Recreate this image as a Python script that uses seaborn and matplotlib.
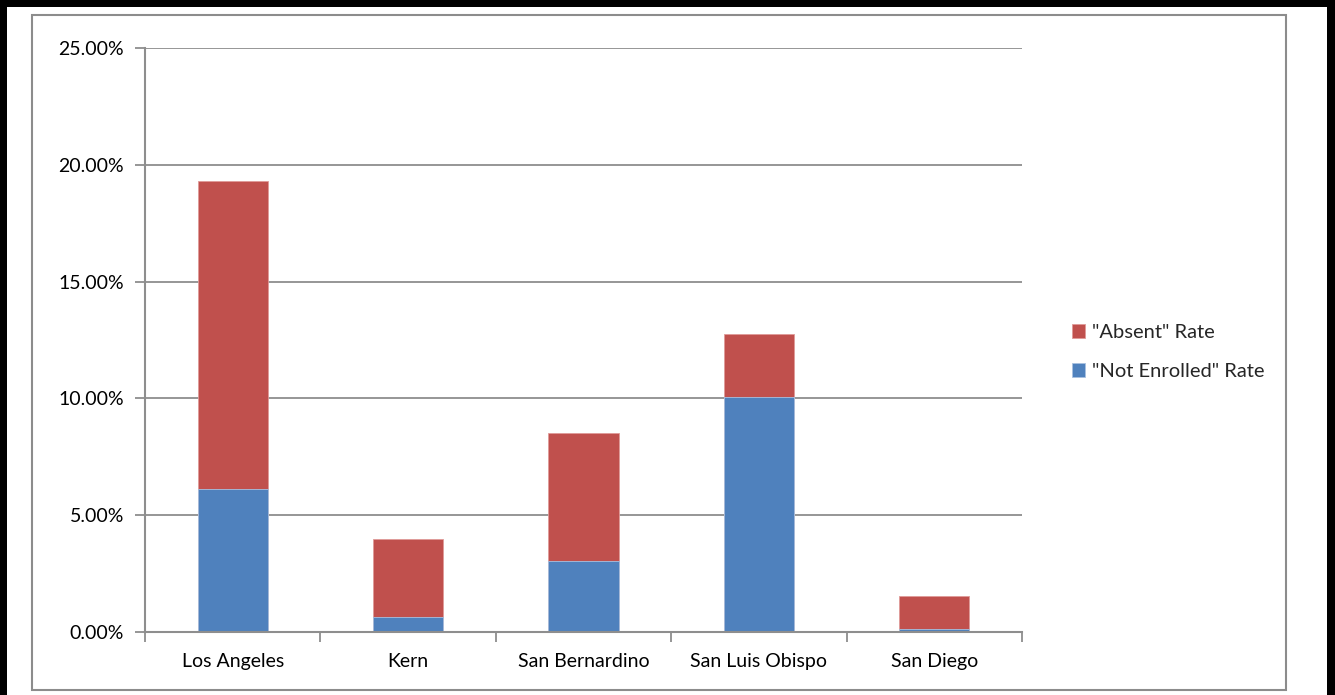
import numpy as np
import pandas as pd
import matplotlib
matplotlib.use("Agg")
import matplotlib.pyplot as plt
from matplotlib.patches import Rectangle
from matplotlib.ticker import FuncFormatter, FixedLocator
import seaborn as sns

counties = ["Los Angeles", "Kern", "San Bernardino", "San Luis Obispo", "San Diego"]
notEnrolled = [0.0612, 0.0064, 0.0304, 0.1007, 0.0012]
absent = [0.1319, 0.0334, 0.0548, 0.0267, 0.0141]

RED = "#c0504d"
BLUE = "#4f81bd"
GRID = "#8e8e8e"

sns.set_theme(style="white")
plt.rcParams["font.family"] = ["Lato", "DejaVu Sans"]

df = pd.DataFrame({"county": counties,
                   "notEnrolled": notEnrolled,
                   "total": np.array(notEnrolled) + np.array(absent)})

W, H = 1335, 695
fig = plt.figure(figsize=(W / 100, H / 100), dpi=100)
ax = fig.add_axes([145 / W, 1 - 632 / H, (1022 - 145) / W, (632 - 48) / H])

# red part on top: draw total height first, blue over it
sns.barplot(data=df, x="county", y="total", color=RED, width=0.4,
            saturation=1, ax=ax, label='"Absent" Rate', zorder=3,
            edgecolor="#e09a98", linewidth=0.6)
sns.barplot(data=df, x="county", y="notEnrolled", color=BLUE, width=0.4,
            saturation=1, ax=ax, label='"Not Enrolled" Rate', zorder=4,
            edgecolor="#a9c1e0", linewidth=0.6)

handles, labels = ax.get_legend_handles_labels()
if ax.get_legend() is not None:
    ax.get_legend().remove()

ax.set_xlim(-0.5, 4.5)
ax.set_ylim(0, 0.25)
ax.set_yticks(np.arange(0, 0.2501, 0.05))
ax.yaxis.set_major_formatter(FuncFormatter(lambda v, p: f"{v * 100:.2f}%"))
ax.yaxis.grid(True, color=GRID, linewidth=1.3)
ax.set_axisbelow(True)
ax.set_xlabel("")
ax.set_ylabel("")

# x ticks at category boundaries, labels at centres
ax.xaxis.set_major_locator(FixedLocator(np.arange(-0.5, 4.6, 1)))
ax.set_xticklabels([])
ax.set_xticks(np.arange(0, 5), labels=counties, minor=True)
ax.tick_params(axis="x", which="major", direction="out", length=7,
               width=1.3, color=GRID, bottom=True)
ax.tick_params(axis="x", which="minor", length=0, labelsize=14,
               colors="black", pad=15)
ax.tick_params(axis="y", direction="out", length=7, width=1.3, color=GRID,
               left=True, labelsize=14, labelcolor="black", pad=8)

for s in ["top", "right"]:
    ax.spines[s].set_visible(False)
for s in ["left", "bottom"]:
    ax.spines[s].set_color(GRID)
    ax.spines[s].set_linewidth(1.5)
    ax.spines[s].set_zorder(5)

fig.legend(handles, labels, loc="center left",
           bbox_to_anchor=(1054 / W, 1 - 352 / H), frameon=False,
           fontsize=14.5, handlelength=0.65, handleheight=0.65,
           handletextpad=0.35, labelspacing=1.1)

# outer frames
fig.patches.append(Rectangle((32 / W, 1 - 690 / H), (1286 - 32) / W, (690 - 15) / H,
                             transform=fig.transFigure, fill=False,
                             edgecolor="#8c8c8c", linewidth=1.5))
fig.patches.append(Rectangle((0, 0), 7 / W, 1, transform=fig.transFigure,
                             color="black", linewidth=0))
fig.patches.append(Rectangle((1327 / W, 0), 8 / W, 1, transform=fig.transFigure,
                             color="black", linewidth=0))
fig.patches.append(Rectangle((0, 1 - 7 / H), 1, 7 / H, transform=fig.transFigure,
                             color="black", linewidth=0))

fig.savefig("out.png", dpi=100)
